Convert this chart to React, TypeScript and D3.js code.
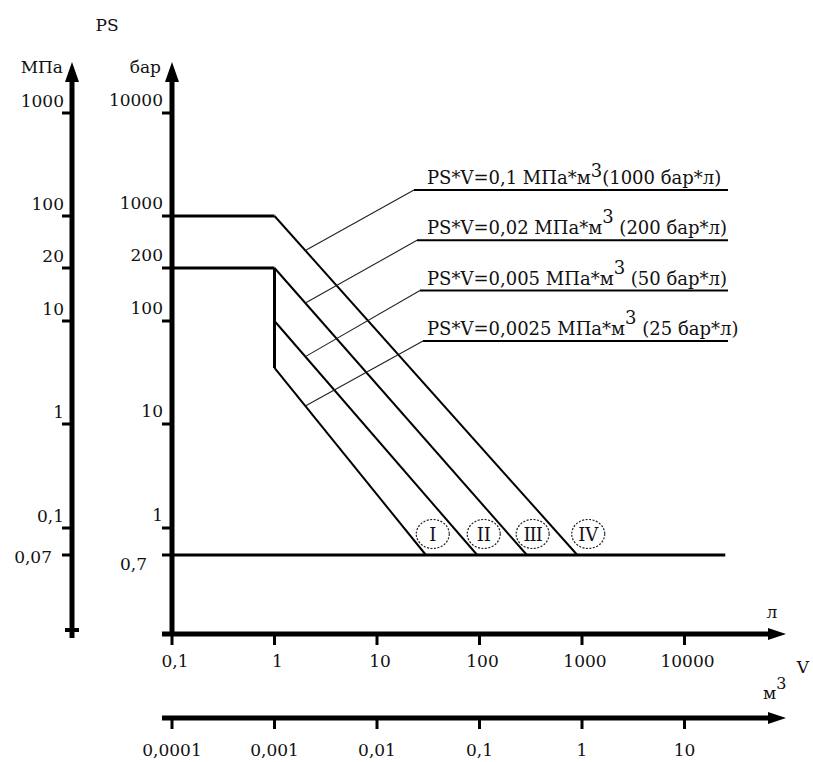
import React from "react";
import * as d3 from "d3";

// pressure axis (bar) and its MPa twin
const barTicks = [10000, 1000, 200, 100, 10, 1, 0.7];
const barLabels = ["10000", "1000", "200", "100", "10", "1", "0,7"];
const mpaTicks = [1000, 100, 20, 10, 1, 0.1, 0.07];
const mpaLabels = ["1000", "100", "20", "10", "1", "0,1", "0,07"];

// volume axes
const litreTicks = [0.1, 1, 10, 100, 1000, 10000];
const litreLabels = ["0,1", "1", "10", "100", "1000", "10000"];
const m3Ticks = [0.0001, 0.001, 0.01, 0.1, 1, 10];
const m3Labels = ["0,0001", "0,001", "0,01", "0,1", "1", "10"];

// curves: [V (л), PS (бар)]
const curveI: [number, number][] = [[1, 35], [30, 0.7]];
const curveII: [number, number][] = [[1, 100], [95, 0.7]];
const curveIII: [number, number][] = [[0.1, 200], [1, 200], [290, 0.7]];
const curveIV: [number, number][] = [[0.1, 1000], [1, 1000], [900, 0.7]];
const stepLine: [number, number][] = [[1, 200], [1, 35]];
const floorLine: [number, number][] = [[0.1, 0.7], [25000, 0.7]];

const groupNames = ["I", "II", "III", "IV"];
const groupLabelV = [35, 110, 330, 1150];

// legend, top to bottom (IV, III, II, I)
const legendMpa = ["0,1", "0,02", "0,005", "0,0025"];
const legendBar = ["1000", "200", "50", "25"];
const leaderV = 2;

const FONT = "DejaVu Serif";

export default function App() {
  const width = 813, height = 762;
  const axisX = 172, mpaX = 72;
  const litreY = 634, m3Y = 718;

  const x = d3.scaleLog().domain([0.1, 10000]).range([axisX, axisX + 512.5]);
  const xm3 = d3.scaleLog().domain([0.0001, 10]).range([axisX, axisX + 512.5]);
  // schematic pressure axis: log steps, with 200 and 0,7 placed as drawn
  const yLog = d3.scaleLinear()
    .domain(barTicks.map(Math.log10))
    .range([113, 216, 268, 321, 424, 528, 555]);
  const y = (v: number) => yLog(Math.log10(v));

  const line = d3.line<[number, number]>().x(d => x(d[0])).y(d => y(d[1]));

  const pointAt = (curve: [number, number][], v: number) => {
    const px = x(v);
    for (let i = 0; i < curve.length - 1; i++) {
      const x0 = x(curve[i][0]), x1 = x(curve[i + 1][0]);
      if (px >= x0 && px <= x1 && x1 > x0) {
        const t = (px - x0) / (x1 - x0);
        return [px, y(curve[i][1]) + t * (y(curve[i + 1][1]) - y(curve[i][1]))];
      }
    }
    return [px, y(curve[0][1])];
  };

  const legendCurves = [curveIV, curveIII, curveII, curveI];
  const curves = [curveI, curveII, curveIII, curveIV];

  const txt = { fontFamily: FONT, fontSize: 17, fill: "#111" } as const;

  return (
    <svg width={width} height={height} style={{ position: "absolute", left: 0, top: 0, background: "#fff" }}>
      {/* titles */}
      <text x={107} y={31} textAnchor="middle" {...txt}>PS</text>
      <text x={63} y={73} textAnchor="end" {...txt}>МПа</text>
      <text x={161} y={73} textAnchor="end" {...txt}>бар</text>

      {/* MPa axis */}
      <line x1={mpaX} x2={mpaX} y1={76} y2={638} stroke="#000" strokeWidth={5} />
      <polygon points={`${mpaX},62 ${mpaX - 7},82 ${mpaX + 7},82`} fill="#000" />
      <line x1={mpaX - 7} x2={mpaX + 7} y1={630} y2={630} stroke="#000" strokeWidth={4} />
      {mpaTicks.map((v, i) => {
        const ty = y(v * 10);
        const low = v === 0.07;
        return (
          <g key={"m" + i}>
            <line x1={mpaX - 10} x2={mpaX} y1={ty} y2={ty} stroke="#000" strokeWidth={3} />
            <text x={low ? mpaX - 20 : mpaX - 8} y={low ? ty + 8 : ty - 6} textAnchor="end" {...txt}>{mpaLabels[i]}</text>
          </g>
        );
      })}

      {/* bar axis */}
      <line x1={axisX} x2={axisX} y1={76} y2={litreY + 2} stroke="#000" strokeWidth={5} />
      <polygon points={`${axisX},62 ${axisX - 7},82 ${axisX + 7},82`} fill="#000" />
      {barTicks.map((v, i) => {
        const ty = y(v);
        const low = v === 0.7;
        return (
          <g key={"b" + i}>
            <line x1={axisX - 10} x2={axisX} y1={ty} y2={ty} stroke="#000" strokeWidth={3} />
            <text x={low ? axisX - 25 : axisX - 9} y={low ? ty + 15 : ty - 7} textAnchor="end" {...txt}>{barLabels[i]}</text>
          </g>
        );
      })}

      {/* litre axis */}
      <line x1={axisX - 10} x2={770} y1={litreY} y2={litreY} stroke="#000" strokeWidth={5} />
      <polygon points={`786,${litreY} 768,${litreY - 6} 768,${litreY + 6}`} fill="#000" />
      {litreTicks.map((v, i) => (
        <g key={"l" + i}>
          <line x1={x(v)} x2={x(v)} y1={litreY} y2={litreY + 11} stroke="#000" strokeWidth={3} />
          <text x={x(v) + 3} y={667} textAnchor="middle" {...txt}>{litreLabels[i]}</text>
        </g>
      ))}
      <text x={772} y={618} textAnchor="middle" {...txt}>л</text>

      {/* m3 axis */}
      <line x1={axisX - 10} x2={770} y1={m3Y} y2={m3Y} stroke="#000" strokeWidth={5} />
      <polygon points={`786,${m3Y} 768,${m3Y - 6} 768,${m3Y + 6}`} fill="#000" />
      {m3Ticks.map((v, i) => (
        <g key={"v" + i}>
          <line x1={xm3(v)} x2={xm3(v)} y1={m3Y} y2={m3Y + 11} stroke="#000" strokeWidth={3} />
          <text x={xm3(v)} y={756} textAnchor="middle" {...txt}>{m3Labels[i]}</text>
        </g>
      ))}
      <text x={803} y={673} textAnchor="middle" {...txt}>V</text>
      <text x={763} y={699} {...txt}>м<tspan dy={-10} fontSize={16}>3</tspan></text>

      {/* curves */}
      <path d={line(floorLine) ?? ""} fill="none" stroke="#000" strokeWidth={3} />
      <path d={line(stepLine) ?? ""} fill="none" stroke="#000" strokeWidth={3} />
      <path d={line(curveIV.slice(0, 2)) ?? ""} fill="none" stroke="#000" strokeWidth={3} />
      <path d={line(curveIII.slice(0, 2)) ?? ""} fill="none" stroke="#000" strokeWidth={3} />
      {curves.map((c, i) => (
        <path key={"c" + i} d={line(c.slice(-2)) ?? ""} fill="none" stroke="#000" strokeWidth={2} />
      ))}

      {/* group markers */}
      {groupNames.map((g, i) => {
        const cx = x(groupLabelV[i]);
        const cy = y(0.7) - 21;
        return (
          <g key={"g" + i}>
            <ellipse cx={cx} cy={cy} rx={16.5} ry={14.5} fill="#fff" stroke="#222" strokeWidth={1.2} strokeDasharray="2,1.5" />
            <text x={cx} y={cy + 6.5} textAnchor="middle" fontFamily={FONT} fontSize={18}
              letterSpacing={g.length > 2 ? -1 : 0} fill="#111">{g}</text>
          </g>
        );
      })}

      {/* legend with leaders */}
      {legendMpa.map((m, i) => {
        const ly = 190 + i * 50.3;
        const lx = 414 + i * 3;
        const [px, py] = pointAt(legendCurves[i], leaderV);
        return (
          <g key={"lg" + i}>
            <line x1={lx} y1={ly} x2={px} y2={py} stroke="#222" strokeWidth={1.1} />
            <line x1={lx} y1={ly} x2={728} y2={ly} stroke="#000" strokeWidth={2} />
            <text x={427} y={ly - 6} {...txt} fontSize={18}>
              {`PS*V=${m} МПа*м`}
              <tspan dy={i === 0 ? -7 : -11}>3</tspan>
              <tspan dy={i === 0 ? 7 : 11}>{`${i === 0 ? "" : " "}(${legendBar[i]} бар*л)`}</tspan>
            </text>
          </g>
        );
      })}
    </svg>
  );
}
